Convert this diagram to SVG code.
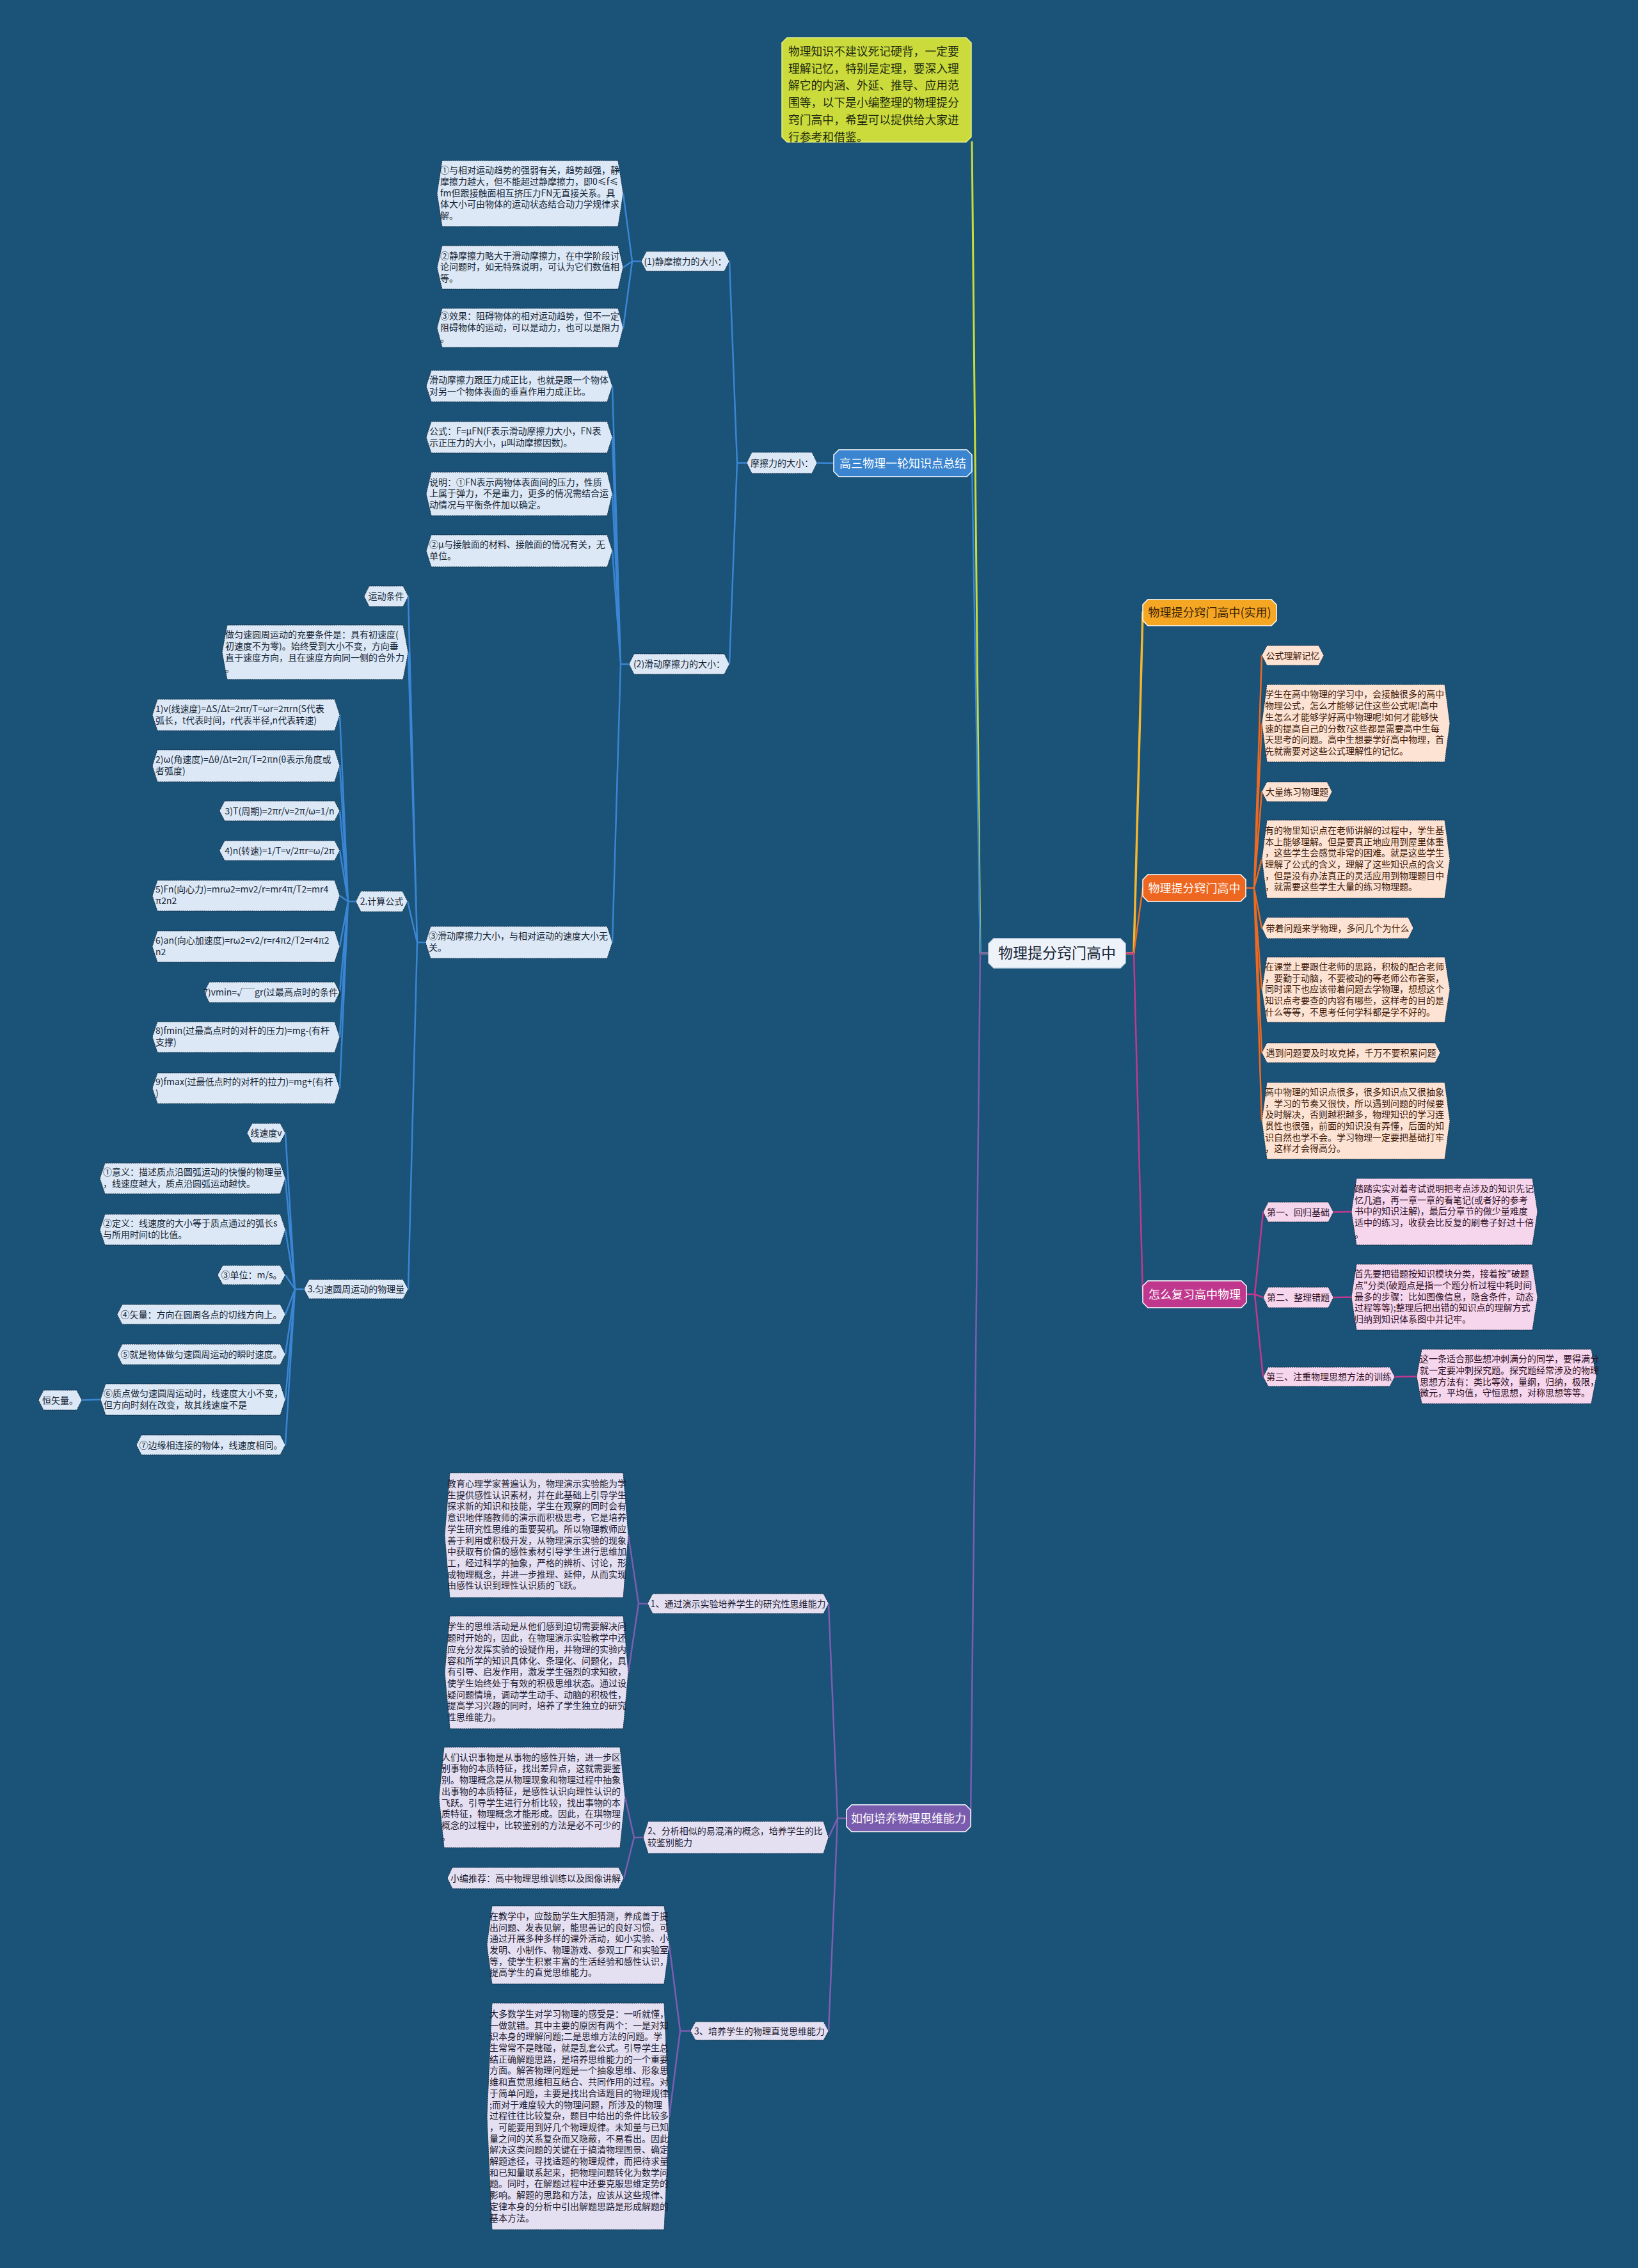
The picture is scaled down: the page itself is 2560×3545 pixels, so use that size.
<svg xmlns="http://www.w3.org/2000/svg" width="2560" height="3545" viewBox="0 0 2560 3545">
<style>
text{font-family:"Noto Sans CJK SC","Noto Sans",sans-serif;font-size:14px}
.nb{fill:#dce8f5;stroke:#0e2c46;stroke-width:1;stroke-dasharray:2 1}
.no{fill:#fde3d4;stroke:#0e2c46;stroke-width:1;stroke-dasharray:2 1}
.np{fill:#f6d6ec;stroke:#0e2c46;stroke-width:1;stroke-dasharray:2 1}
.nv{fill:#e4e0f2;stroke:#0e2c46;stroke-width:1;stroke-dasharray:2 1}
.tb{fill:#152535}
.to{fill:#3e1a08}
.tp{fill:#2e0f25}
.tv{fill:#1c1a30}
.c{text-anchor:middle}
.main{stroke:#ffffff;stroke-width:1.5}
.mt{font-size:18px;fill:#ffffff;text-anchor:middle}
.l{fill:none;stroke-linejoin:round;stroke-linecap:round}
.cb{stroke:#3a86d4;stroke-width:2.5}
.cv{stroke:#7b5eb0;stroke-width:2.5}
.co{stroke:#ec6a22;stroke-width:2.5}
.cp{stroke:#c0398f;stroke-width:2.5}
</style>
<rect width="2560" height="3545" fill="#1b5277"/>

<g id="connectors">
<path class="l" stroke="#c8dc3a" stroke-width="3" d="M1545,1490 L1532,1490 L1519,222"/>
<path class="l cb" stroke-width="3.5" d="M1545,1490 L1532,1490 L1519,724"/>
<path class="l cv" stroke-width="3.5" d="M1545,1490 L1532,1490 L1517,2842"/>
<path class="l" stroke="#f5b72e" stroke-width="3.5" d="M1759,1490 L1772,1490 L1786,957"/>
<path class="l co" stroke-width="3.5" d="M1759,1490 L1772,1490 L1786,1388"/>
<path class="l cp" stroke-width="3.5" d="M1759,1490 L1772,1490 L1786,2023"/>
<path class="l cb" d="M1303,724 L1277,723.5"/>
<path class="l cb" d="M1167,723.5 L1152,723.5 L1140,408.5 M1152,723.5 L1140,1038"/>
<path class="l cb" d="M1002,408.5 L988,408.5 L974,302.5 M988,408.5 L974,418 M988,408.5 L974,512.5"/>
<path class="l cb" d="M983,1038 L970,1038 L957,603.5 M970,1038 L957,683.5 M970,1038 L957,772 M970,1038 L957,861 M970,1038 L957,1473"/>
<path class="l cb" d="M665,1473 L652,1473 L638,932 M652,1473 L638,1019.5 M652,1473 L637,1409 M652,1473 L638,2015"/>
<path class="l cb" d="M556,1409 L544,1409 L531,1117.5 M544,1409 L531,1197 M544,1409 L531,1267.5 M544,1409 L531,1329.5 M544,1409 L531,1400 M544,1409 L531,1479.5 M544,1409 L531,1551 M544,1409 L531,1621 M544,1409 L531,1701"/>
<path class="l cb" d="M475,2015 L461,2015 L446,1771 M461,2015 L446,1842 M461,2015 L446,1922 M461,2015 L446,1993 M461,2015 L446,2054.5 M461,2015 L446,2117 M461,2015 L446,2187.5 M461,2015 L446,2258.5"/>
<path class="l cb" d="M157,2187.5 L128,2188.5"/>
<path class="l cv" d="M1323,2842 L1309,2842 L1295,2506.5 M1309,2842 L1295,2872 M1309,2842 L1295,3174.5"/>
<path class="l cv" d="M1012,2506.5 L998,2506.5 L982,2399.5 M998,2506.5 L982,2614"/>
<path class="l cv" d="M1005,2872 L991,2872 L977,2809.5 M991,2872 L975,2935.5"/>
<path class="l cv" d="M1079,3174.5 L1063,3174.5 L1046,3040 M1063,3174.5 L1046,3308"/>
<path class="l co" d="M1947,1388 L1960,1388 L1972,1024.5 M1960,1388 L1972,1130.5 M1960,1388 L1972,1237.5 M1960,1388 L1972,1343 M1960,1388 L1972,1450.5 M1960,1388 L1972,1547 M1960,1388 L1972,1645.5 M1960,1388 L1972,1752"/>
<path class="l cp" d="M1948,2023 L1961,2023 L1974,1894.5 M1961,2023 L1974,2028 M1961,2023 L1974,2152"/>
<path class="l cp" d="M2084,1894.5 L2112,1894 M2084,2028 L2112,2027.5 M2180,2152 L2214,2151.5"/>
</g>

<g id="intro">
<polygon points="1230,59 1510,59 1518,67 1518,214 1510,222 1230,222 1222,214 1222,67" fill="#cbdb3c" stroke="#e6ef8a" stroke-width="1.5"/>
<text x="1232" y="87" style="font-size:17.8px" fill="#1e2a10"><tspan x="1232">物理知识不建议死记硬背，一定要</tspan><tspan x="1232" dy="26.7">理解记忆，特别是定理，要深入理</tspan><tspan x="1232" dy="26.7">解它的内涵、外延、推导、应用范</tspan><tspan x="1232" dy="26.7">围等，以下是小编整理的物理提分</tspan><tspan x="1232" dy="26.7">窍门高中，希望可以提供给大家进</tspan><tspan x="1232" dy="26.7">行参考和借鉴。</tspan></text>
</g>

<g id="center">
<polygon points="1553,1467 1751,1467 1759,1475 1759,1505 1751,1513 1553,1513 1545,1505 1545,1475" fill="#eef3f9" stroke="#c9d7e8" stroke-width="1.5"/>
<text x="1652" y="1498" class="c" style="font-size:23px" fill="#1a2838">物理提分窍门高中</text>
</g>

<!-- blue branch -->
<g id="n-gaosan">
<polygon class="main" points="1311,703 1511,703 1519,711 1519,737 1511,745 1311,745 1303,737 1303,711" fill="#3a84d0"/>
<text x="1411" y="731" class="mt">高三物理一轮知识点总结</text>
</g>
<g id="n-mocali">
<polygon class="nb" points="1167,723.5 1175,707 1269,707 1277,723.5 1269,740 1175,740"/>
<text x="1222" y="728.5" class="tb c">摩擦力的大小：</text>
</g>
<g id="n-jing">
<polygon class="nb" points="1002,408.5 1010,393 1132,393 1140,408.5 1132,424 1010,424"/>
<text x="1071" y="413.5" class="tb c">(1)静摩擦力的大小：</text>
</g>
<g id="n-jing1">
<polygon class="nb" points="683,302.5 691,251 966,251 974,302.5 966,354 691,354"/>
<text class="tb" y="271.3"><tspan x="688">①与相对运动趋势的强弱有关，趋势越强，静</tspan><tspan x="688" dy="17.7">摩擦力越大，但不能超过静摩擦力，即0≤f≤</tspan><tspan x="688" dy="17.7">fm但跟接触面相互挤压力FN无直接关系。具</tspan><tspan x="688" dy="17.7">体大小可由物体的运动状态结合动力学规律求</tspan><tspan x="688" dy="17.7">解。</tspan></text>
</g>
<g id="n-jing2">
<polygon class="nb" points="683,418 691,384 966,384 974,418 966,452 691,452"/>
<text class="tb" y="404.5"><tspan x="688">②静摩擦力略大于滑动摩擦力，在中学阶段讨</tspan><tspan x="688" dy="17.7">论问题时，如无特殊说明，可认为它们数值相</tspan><tspan x="688" dy="17.7">等。</tspan></text>
</g>
<g id="n-jing3">
<polygon class="nb" points="683,512.5 691,482 966,482 974,512.5 966,543 691,543"/>
<text class="tb" y="499"><tspan x="688">③效果：阻碍物体的相对运动趋势，但不一定</tspan><tspan x="688" dy="17.7">阻碍物体的运动，可以是动力，也可以是阻力</tspan><tspan x="688" dy="17.7">。</tspan></text>
</g>
<g id="n-hua">
<polygon class="nb" points="983,1038 991,1022 1132,1022 1140,1038 1132,1054 991,1054"/>
<text x="1061.5" y="1043" class="tb c">(2)滑动摩擦力的大小：</text>
</g>
<g id="n-hua1">
<polygon class="nb" points="666,603.5 674,579 949,579 957,603.5 949,628 674,628"/>
<text class="tb" y="598.8"><tspan x="671">滑动摩擦力跟压力成正比，也就是跟一个物体</tspan><tspan x="671" dy="17.7">对另一个物体表面的垂直作用力成正比。</tspan></text>
</g>
<g id="n-hua2">
<polygon class="nb" points="666,683.5 674,659 949,659 957,683.5 949,708 674,708"/>
<text class="tb" y="678.8"><tspan x="671">公式：F=μFN(F表示滑动摩擦力大小，FN表</tspan><tspan x="671" dy="17.7">示正压力的大小，μ叫动摩擦因数)。</tspan></text>
</g>
<g id="n-hua3">
<polygon class="nb" points="666,772 674,738 949,738 957,772 949,806 674,806"/>
<text class="tb" y="758.5"><tspan x="671">说明：①FN表示两物体表面间的压力，性质</tspan><tspan x="671" dy="17.7">上属于弹力，不是重力，更多的情况需结合运</tspan><tspan x="671" dy="17.7">动情况与平衡条件加以确定。</tspan></text>
</g>
<g id="n-hua4">
<polygon class="nb" points="666,861 674,836 949,836 957,861 949,886 674,886"/>
<text class="tb" y="856.3"><tspan x="671">②μ与接触面的材料、接触面的情况有关，无</tspan><tspan x="671" dy="17.7">单位。</tspan></text>
</g>
<g id="n-hua5">
<polygon class="nb" points="665,1473 673,1448 949,1448 957,1473 949,1498 673,1498"/>
<text class="tb" y="1468.3"><tspan x="670">③滑动摩擦力大小，与相对运动的速度大小无</tspan><tspan x="670" dy="17.7">关。</tspan></text>
</g>
<g id="n-tiaojian">
<polygon class="nb" points="569,932 577,916 630,916 638,932 630,948 577,948"/>
<text x="603.5" y="937" class="tb c">运动条件</text>
</g>
<g id="n-chongyao">
<polygon class="nb" points="347,1019.5 355,977 630,977 638,1019.5 630,1062 355,1062"/>
<text class="tb" y="997.1"><tspan x="352">做匀速圆周运动的充要条件是：具有初速度(</tspan><tspan x="352" dy="17.7">初速度不为零)。始终受到大小不变，方向垂</tspan><tspan x="352" dy="17.7">直于速度方向，且在速度方向同一侧的合外力</tspan><tspan x="352" dy="17.7">。</tspan></text>
</g>
<g id="n-jisuan">
<polygon class="nb" points="556,1409 564,1393 629,1393 637,1409 629,1425 564,1425"/>
<text x="596.5" y="1414" class="tb c">2.计算公式</text>
</g>
<g id="n-f1">
<polygon class="nb" points="238,1117.5 246,1093 523,1093 531,1117.5 523,1142 246,1142"/>
<text class="tb" y="1112.8"><tspan x="243">1)v(线速度)=ΔS/Δt=2πr/T=ωr=2πrn(S代表</tspan><tspan x="243" dy="17.7">弧长，t代表时间，r代表半径,n代表转速)</tspan></text>
</g>
<g id="n-f2">
<polygon class="nb" points="238,1197 246,1172 523,1172 531,1197 523,1222 246,1222"/>
<text class="tb" y="1192.3"><tspan x="243">2)ω(角速度)=Δθ/Δt=2π/T=2πn(θ表示角度或</tspan><tspan x="243" dy="17.7">者弧度)</tspan></text>
</g>
<g id="n-f3">
<polygon class="nb" points="343,1267.5 351,1252 523,1252 531,1267.5 523,1283 351,1283"/>
<text x="437" y="1272.5" class="tb c">3)T(周期)=2πr/v=2π/ω=1/n</text>
</g>
<g id="n-f4">
<polygon class="nb" points="343,1329.5 351,1314 523,1314 531,1329.5 523,1345 351,1345"/>
<text x="437" y="1334.5" class="tb c">4)n(转速)=1/T=v/2πr=ω/2π</text>
</g>
<g id="n-f5">
<polygon class="nb" points="238,1400 246,1376 523,1376 531,1400 523,1424 246,1424"/>
<text class="tb" y="1395.3"><tspan x="243">5)Fn(向心力)=mrω2=mv2/r=mr4π/T2=mr4</tspan><tspan x="243" dy="17.7">π2n2</tspan></text>
</g>
<g id="n-f6">
<polygon class="nb" points="238,1479.5 246,1455 523,1455 531,1479.5 523,1504 246,1504"/>
<text class="tb" y="1474.8"><tspan x="243">6)an(向心加速度)=rω2=v2/r=r4π2/T2=r4π2</tspan><tspan x="243" dy="17.7">n2</tspan></text>
</g>
<g id="n-f7">
<polygon class="nb" points="319,1551 327,1535 523,1535 531,1551 523,1567 327,1567"/>
<text x="425" y="1556" class="tb c">7)vmin=√￣gr(过最高点时的条件)</text>
</g>
<g id="n-f8">
<polygon class="nb" points="238,1621 246,1597 523,1597 531,1621 523,1645 246,1645"/>
<text class="tb" y="1616.3"><tspan x="243">8)fmin(过最高点时的对杆的压力)=mg-(有杆</tspan><tspan x="243" dy="17.7">支撑)</tspan></text>
</g>
<g id="n-f9">
<polygon class="nb" points="238,1701 246,1677 523,1677 531,1701 523,1725 246,1725"/>
<text class="tb" y="1696.3"><tspan x="243">9)fmax(过最低点时的对杆的拉力)=mg+(有杆</tspan><tspan x="243" dy="17.7">)</tspan></text>
</g>
<g id="n-wuliliang">
<polygon class="nb" points="475,2015 483,2000 630,2000 638,2015 630,2030 483,2030"/>
<text x="556.5" y="2020" class="tb c">3.匀速圆周运动的物理量</text>
</g>
<g id="n-v0">
<polygon class="nb" points="386,1771 394,1756 438,1756 446,1771 438,1786 394,1786"/>
<text x="416" y="1776" class="tb c">线速度v</text>
</g>
<g id="n-v1">
<polygon class="nb" points="156,1842 164,1818 438,1818 446,1842 438,1866 164,1866"/>
<text class="tb" y="1837.3"><tspan x="161">①意义：描述质点沿圆弧运动的快慢的物理量</tspan><tspan x="161" dy="17.7">，线速度越大，质点沿圆弧运动越快。</tspan></text>
</g>
<g id="n-v2">
<polygon class="nb" points="156,1922 164,1898 438,1898 446,1922 438,1946 164,1946"/>
<text class="tb" y="1917.3"><tspan x="161">②定义：线速度的大小等于质点通过的弧长s</tspan><tspan x="161" dy="17.7">与所用时间t的比值。</tspan></text>
</g>
<g id="n-v3">
<polygon class="nb" points="340,1993 348,1978 438,1978 446,1993 438,2008 348,2008"/>
<text x="393" y="1998" class="tb c">③单位：m/s。</text>
</g>
<g id="n-v4">
<polygon class="nb" points="183,2054.5 191,2039 438,2039 446,2054.5 438,2070 191,2070"/>
<text x="314.5" y="2059.5" class="tb c">④矢量：方向在圆周各点的切线方向上。</text>
</g>
<g id="n-v5">
<polygon class="nb" points="183,2117 191,2101 438,2101 446,2117 438,2133 191,2133"/>
<text x="314.5" y="2122" class="tb c">⑤就是物体做匀速圆周运动的瞬时速度。</text>
</g>
<g id="n-v6">
<polygon class="nb" points="157,2187.5 165,2163 438,2163 446,2187.5 438,2212 165,2212"/>
<text class="tb" y="2182.8"><tspan x="162">⑥质点做匀速圆周运动时，线速度大小不变，</tspan><tspan x="162" dy="17.7">但方向时刻在改变，故其线速度不是</tspan></text>
</g>
<g id="n-v6a">
<polygon class="nb" points="60,2188.5 68,2173 120,2173 128,2188.5 120,2204 68,2204"/>
<text x="94" y="2193.5" class="tb c">恒矢量。</text>
</g>
<g id="n-v7">
<polygon class="nb" points="213,2258.5 221,2243 438,2243 446,2258.5 438,2274 221,2274"/>
<text x="329.5" y="2263.5" class="tb c">⑦边缘相连接的物体，线速度相同。</text>
</g>

<!-- purple branch -->
<g id="n-peiyang">
<polygon class="main" points="1331,2821 1509,2821 1517,2829 1517,2855 1509,2863 1331,2863 1323,2855 1323,2829" fill="#7a5cae"/>
<text x="1420" y="2848.5" class="mt">如何培养物理思维能力</text>
</g>
<g id="n-p1">
<polygon class="nv" points="1012,2506.5 1020,2491 1287,2491 1295,2506.5 1287,2522 1020,2522"/>
<text x="1153.5" y="2511.5" class="tv c">1、通过演示实验培养学生的研究性思维能力</text>
</g>
<g id="n-p1a">
<polygon class="nv" points="695,2399.5 703,2302 974,2302 982,2399.5 974,2497 703,2497"/>
<text class="tv" y="2324"><tspan x="699">教育心理学家普遍认为，物理演示实验能为学</tspan><tspan x="699" dy="17.7">生提供感性认识素材，并在此基础上引导学生</tspan><tspan x="699" dy="17.7">探求新的知识和技能，学生在观察的同时会有</tspan><tspan x="699" dy="17.7">意识地伴随教师的演示而积极思考，它是培养</tspan><tspan x="699" dy="17.7">学生研究性思维的重要契机。所以物理教师应</tspan><tspan x="699" dy="17.7">善于利用或积极开发，从物理演示实验的现象</tspan><tspan x="699" dy="17.7">中获取有价值的感性素材引导学生进行思维加</tspan><tspan x="699" dy="17.7">工，经过科学的抽象，严格的辨析、讨论，形</tspan><tspan x="699" dy="17.7">成物理概念，并进一步推理、延伸，从而实现</tspan><tspan x="699" dy="17.7">由感性认识到理性认识质的飞跃。</tspan></text>
</g>
<g id="n-p1b">
<polygon class="nv" points="695,2614 703,2526 974,2526 982,2614 974,2702 703,2702"/>
<text class="tv" y="2547.4"><tspan x="699">学生的思维活动是从他们感到迫切需要解决问</tspan><tspan x="699" dy="17.7">题时开始的，因此，在物理演示实验教学中还</tspan><tspan x="699" dy="17.7">应充分发挥实验的设疑作用，并物理的实验内</tspan><tspan x="699" dy="17.7">容和所学的知识具体化、条理化、问题化，具</tspan><tspan x="699" dy="17.7">有引导、启发作用，激发学生强烈的求知欲，</tspan><tspan x="699" dy="17.7">使学生始终处于有效的积极思维状态。通过设</tspan><tspan x="699" dy="17.7">疑问题情境，调动学生动手、动脑的积极性，</tspan><tspan x="699" dy="17.7">提高学习兴趣的同时，培养了学生独立的研究</tspan><tspan x="699" dy="17.7">性思维能力。</tspan></text>
</g>
<g id="n-p2">
<polygon class="nv" points="1005,2872 1013,2847 1287,2847 1295,2872 1287,2897 1013,2897"/>
<text class="tv" y="2867.3"><tspan x="1012">2、分析相似的易混淆的概念，培养学生的比</tspan><tspan x="1012" dy="17.7">较鉴别能力</tspan></text>
</g>
<g id="n-p2a">
<polygon class="nv" points="686,2809.5 694,2731 969,2731 977,2809.5 969,2888 694,2888"/>
<text class="tv" y="2751.7"><tspan x="690">人们认识事物是从事物的感性开始，进一步区</tspan><tspan x="690" dy="17.7">别事物的本质特征，找出差异点，这就需要鉴</tspan><tspan x="690" dy="17.7">别。物理概念是从物理现象和物理过程中抽象</tspan><tspan x="690" dy="17.7">出事物的本质特征，是感性认识向理性认识的</tspan><tspan x="690" dy="17.7">飞跃。引导学生进行分析比较，找出事物的本</tspan><tspan x="690" dy="17.7">质特征，物理概念才能形成。因此，在琪物理</tspan><tspan x="690" dy="17.7">概念的过程中，比较鉴别的方法是必不可少的</tspan><tspan x="690" dy="17.7">。</tspan></text>
</g>
<g id="n-p2b">
<polygon class="nv" points="699,2935.5 707,2919 967,2919 975,2935.5 967,2952 707,2952"/>
<text x="837" y="2940.5" class="tv c">小编推荐：高中物理思维训练以及图像讲解</text>
</g>
<g id="n-p3">
<polygon class="nv" points="1079,3174.5 1087,3160 1287,3160 1295,3174.5 1287,3189 1087,3189"/>
<text x="1187" y="3179.5" class="tv c">3、培养学生的物理直觉思维能力</text>
</g>
<g id="n-p3a">
<polygon class="nv" points="761,3040 769,2979 1038,2979 1046,3040 1038,3101 769,3101"/>
<text class="tv" y="2999.9"><tspan x="765">在教学中，应鼓励学生大胆猜测，养成善于提</tspan><tspan x="765" dy="17.7">出问题、发表见解，能思善记的良好习惯。可</tspan><tspan x="765" dy="17.7">通过开展多种多样的课外活动，如小实验、小</tspan><tspan x="765" dy="17.7">发明、小制作、物理游戏、参观工厂和实验室</tspan><tspan x="765" dy="17.7">等，使学生积累丰富的生活经验和感性认识，</tspan><tspan x="765" dy="17.7">提高学生的直觉思维能力。</tspan></text>
</g>
<g id="n-p3b">
<polygon class="nv" points="761,3308 769,3131 1038,3131 1046,3308 1038,3485 769,3485"/>
<text class="tv" y="3152.9"><tspan x="765">大多数学生对学习物理的感受是：一听就懂，</tspan><tspan x="765" dy="17.7">一做就错。其中主要的原因有两个：一是对知</tspan><tspan x="765" dy="17.7">识本身的理解问题;二是思维方法的问题。学</tspan><tspan x="765" dy="17.7">生常常不是瞎碰，就是乱套公式。引导学生总</tspan><tspan x="765" dy="17.7">结正确解题思路，是培养思维能力的一个重要</tspan><tspan x="765" dy="17.7">方面。解答物理问题是一个抽象思维、形象思</tspan><tspan x="765" dy="17.7">维和直觉思维相互结合、共同作用的过程。对</tspan><tspan x="765" dy="17.7">于简单问题，主要是找出合适题目的物理规律</tspan><tspan x="765" dy="17.7">;而对于难度较大的物理问题，所涉及的物理</tspan><tspan x="765" dy="17.7">过程往往比较复杂，题目中给出的条件比较多</tspan><tspan x="765" dy="17.7">，可能要用到好几个物理规律。未知量与已知</tspan><tspan x="765" dy="17.7">量之间的关系复杂而又隐蔽，不易看出。因此</tspan><tspan x="765" dy="17.7">解决这类问题的关键在于搞清物理图景、确定</tspan><tspan x="765" dy="17.7">解题途径，寻找适题的物理规律，而把待求量</tspan><tspan x="765" dy="17.7">和已知量联系起来，把物理问题转化为数学问</tspan><tspan x="765" dy="17.7">题。同时，在解题过程中还要克服思维定势的</tspan><tspan x="765" dy="17.7">影响。解题的思路和方法，应该从这些规律、</tspan><tspan x="765" dy="17.7">定律本身的分析中引出解题思路是形成解题的</tspan><tspan x="765" dy="17.7">基本方法。</tspan></text>
</g>

<!-- right side -->
<g id="n-shiyong">
<polygon class="main" points="1794,937 1987,937 1995,945 1995,970 1987,978 1794,978 1786,970 1786,945" fill="#f5a623"/>
<text x="1890.5" y="964" class="mt" style="fill:#3a2204">物理提分窍门高中(实用)</text>
</g>
<g id="n-tifen">
<polygon class="main" points="1794,1367 1939,1367 1947,1375 1947,1401 1939,1409 1794,1409 1786,1401 1786,1375" fill="#ee6720"/>
<text x="1866.5" y="1394.5" class="mt">物理提分窍门高中</text>
</g>
<g id="n-o1">
<polygon class="no" points="1972,1024.5 1980,1009 2061,1009 2069,1024.5 2061,1040 1980,1040"/>
<text x="2020.5" y="1029.5" class="to c">公式理解记忆</text>
</g>
<g id="n-o2">
<polygon class="no" points="1972,1130.5 1980,1070 2258,1070 2266,1130.5 2258,1191 1980,1191"/>
<text class="to" y="1090.4"><tspan x="1977">学生在高中物理的学习中，会接触很多的高中</tspan><tspan x="1977" dy="17.7">物理公式，怎么才能够记住这些公式呢!高中</tspan><tspan x="1977" dy="17.7">生怎么才能够学好高中物理呢!如何才能够快</tspan><tspan x="1977" dy="17.7">速的提高自己的分数?这些都是需要高中生每</tspan><tspan x="1977" dy="17.7">天思考的问题。高中生想要学好高中物理，首</tspan><tspan x="1977" dy="17.7">先就需要对这些公式理解性的记忆。</tspan></text>
</g>
<g id="n-o3">
<polygon class="no" points="1972,1237.5 1980,1222 2074,1222 2082,1237.5 2074,1253 1980,1253"/>
<text x="2027" y="1242.5" class="to c">大量练习物理题</text>
</g>
<g id="n-o4">
<polygon class="no" points="1972,1343 1980,1282 2258,1282 2266,1343 2258,1404 1980,1404"/>
<text class="to" y="1302.9"><tspan x="1977">有的物里知识点在老师讲解的过程中，学生基</tspan><tspan x="1977" dy="17.7">本上能够理解。但是要真正地应用到屋里体重</tspan><tspan x="1977" dy="17.7">，这些学生会感觉非常的困难。就是这些学生</tspan><tspan x="1977" dy="17.7">理解了公式的含义，理解了这些知识点的含义</tspan><tspan x="1977" dy="17.7">，但是没有办法真正的灵活应用到物理题目中</tspan><tspan x="1977" dy="17.7">，就需要这些学生大量的练习物理题。</tspan></text>
</g>
<g id="n-o5">
<polygon class="no" points="1972,1450.5 1980,1434 2201,1434 2209,1450.5 2201,1467 1980,1467"/>
<text x="2090.5" y="1455.5" class="to c">带着问题来学物理，多问几个为什么</text>
</g>
<g id="n-o6">
<polygon class="no" points="1972,1547 1980,1496 2258,1496 2266,1547 2258,1598 1980,1598"/>
<text class="to" y="1515.8"><tspan x="1977">在课堂上要跟住老师的思路，积极的配合老师</tspan><tspan x="1977" dy="17.7">，要勤于动脑，不要被动的等老师公布答案，</tspan><tspan x="1977" dy="17.7">同时课下也应该带着问题去学物理，想想这个</tspan><tspan x="1977" dy="17.7">知识点考要查的内容有哪些，这样考的目的是</tspan><tspan x="1977" dy="17.7">什么等等，不思考任何学科都是学不好的。</tspan></text>
</g>
<g id="n-o7">
<polygon class="no" points="1972,1645.5 1980,1630 2243,1630 2251,1645.5 2243,1661 1980,1661"/>
<text x="2111.5" y="1650.5" class="to c">遇到问题要及时攻克掉，千万不要积累问题</text>
</g>
<g id="n-o8">
<polygon class="no" points="1972,1752 1980,1692 2258,1692 2266,1752 2258,1812 1980,1812"/>
<text class="to" y="1711.9"><tspan x="1977">高中物理的知识点很多，很多知识点又很抽象</tspan><tspan x="1977" dy="17.7">，学习的节奏又很快，所以遇到问题的时候要</tspan><tspan x="1977" dy="17.7">及时解决，否则越积越多，物理知识的学习连</tspan><tspan x="1977" dy="17.7">贯性也很强，前面的知识没有弄懂，后面的知</tspan><tspan x="1977" dy="17.7">识自然也学不会。学习物理一定要把基础打牢</tspan><tspan x="1977" dy="17.7">，这样才会得高分。</tspan></text>
</g>

<g id="n-fuxi">
<polygon class="main" points="1794,2002 1940,2002 1948,2010 1948,2036 1940,2044 1794,2044 1786,2036 1786,2010" fill="#c0388e"/>
<text x="1867" y="2029.5" class="mt">怎么复习高中物理</text>
</g>
<g id="n-k1">
<polygon class="np" points="1974,1894.5 1982,1879 2076,1879 2084,1894.5 2076,1910 1982,1910"/>
<text x="2029" y="1899.5" class="tp c">第一、回归基础</text>
</g>
<g id="n-k1a">
<polygon class="np" points="2112,1894 2120,1842 2395,1842 2403,1894 2395,1946 2120,1946"/>
<text class="tp" y="1862.8"><tspan x="2117">踏踏实实对着考试说明把考点涉及的知识先记</tspan><tspan x="2117" dy="17.7">忆几遍，再一章一章的看笔记(或者好的参考</tspan><tspan x="2117" dy="17.7">书中的知识注解)，最后分章节的做少量难度</tspan><tspan x="2117" dy="17.7">适中的练习，收获会比反复的刷卷子好过十倍</tspan><tspan x="2117" dy="17.7">。</tspan></text>
</g>
<g id="n-k2">
<polygon class="np" points="1974,2028 1982,2012 2076,2012 2084,2028 2076,2044 1982,2044"/>
<text x="2029" y="2033" class="tp c">第二、整理错题</text>
</g>
<g id="n-k2a">
<polygon class="np" points="2112,2027.5 2120,1976 2395,1976 2403,2027.5 2395,2079 2120,2079"/>
<text class="tp" y="1996.3"><tspan x="2117">首先要把错题按知识模块分类，接着按"破题</tspan><tspan x="2117" dy="17.7">点"分类(破题点是指一个题分析过程中耗时间</tspan><tspan x="2117" dy="17.7">最多的步骤：比如图像信息，隐含条件，动态</tspan><tspan x="2117" dy="17.7">过程等等);整理后把出错的知识点的理解方式</tspan><tspan x="2117" dy="17.7">归纳到知识体系图中并记牢。</tspan></text>
</g>
<g id="n-k3">
<polygon class="np" points="1974,2152 1982,2137 2172,2137 2180,2152 2172,2167 1982,2167"/>
<text x="2077" y="2157" class="tp c">第三、注重物理思想方法的训练</text>
</g>
<g id="n-k3a">
<polygon class="np" points="2214,2151.5 2222,2109 2487,2109 2495,2151.5 2487,2194 2222,2194"/>
<text class="tp" y="2129.1"><tspan x="2219">这一条适合那些想冲刺满分的同学，要得满分</tspan><tspan x="2219" dy="17.7">就一定要冲刺探究题。探究题经常涉及的物理</tspan><tspan x="2219" dy="17.7">思想方法有：类比等效，量纲，归纳，极限，</tspan><tspan x="2219" dy="17.7">微元，平均值，守恒思想，对称思想等等。</tspan></text>
</g>
</svg>
